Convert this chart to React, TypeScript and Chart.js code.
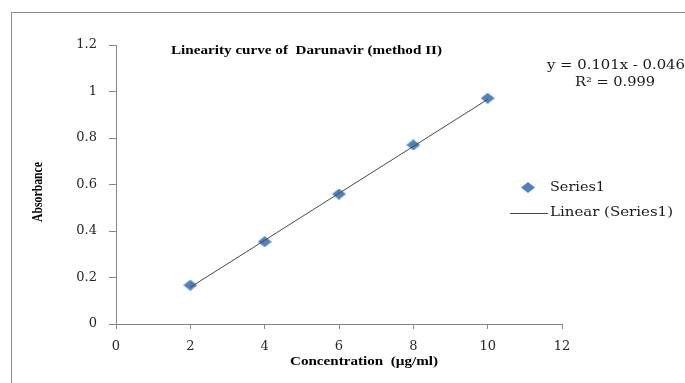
import React, { useEffect, useRef } from 'react';
import { Chart, registerables } from 'chart.js';

Chart.register(...registerables);

// ---- data ----
const concentrations = [2, 4, 6, 8, 10];
const absorbance = [0.167, 0.354, 0.559, 0.77, 0.971];
const trendX = [2, 10];
const trendY = [0.158, 0.966];
const xTicks = [0, 2, 4, 6, 8, 10, 12];
const yTicks = [0, 0.2, 0.4, 0.6, 0.8, 1, 1.2];
const titleText = 'Linearity curve of  Darunavir (method II)';
const equationText = 'y = 0.101x - 0.046';
const r2Text = 'R² = 0.999';
const xTitle = 'Concentration  (µg/ml)';
const yTitle = 'Absorbance';
const seriesName = 'Series1';
const trendName = 'Linear (Series1)';

const W = 685;
const H = 383;
const BLUE = '#4F81BD';
const AXIS = '#868686';
const TREND = '#4a4a4a';

function makeDiamond(w: number, h: number) {
  const c = document.createElement('canvas');
  c.width = w;
  c.height = h;
  const g = c.getContext('2d')!;
  g.fillStyle = BLUE;
  g.beginPath();
  g.moveTo(w / 2, 0);
  g.lineTo(w, h / 2);
  g.lineTo(w / 2, h);
  g.lineTo(0, h / 2);
  g.closePath();
  g.fill();
  return c;
}

function fitText(
  ctx: CanvasRenderingContext2D,
  text: string,
  x: number,
  y: number,
  font: string,
  width: number,
  align: CanvasTextAlign,
  color: string,
  rotate = false
) {
  ctx.save();
  ctx.font = font;
  const m = ctx.measureText(text).width;
  const s = width / m;
  ctx.translate(x, y);
  if (rotate) ctx.rotate(-Math.PI / 2);
  ctx.scale(s, 1);
  ctx.textAlign = align;
  ctx.textBaseline = 'middle';
  ctx.fillStyle = color;
  ctx.fillText(text, 0, 0);
  ctx.restore();
}

const decorPlugin = {
  id: 'decor',
  afterDraw(chart: any) {
    const ctx: CanvasRenderingContext2D = chart.ctx;
    // outer frame (top + left)
    ctx.save();
    ctx.strokeStyle = '#8c8c8c';
    ctx.lineWidth = 1;
    ctx.beginPath();
    ctx.moveTo(11, 12.5);
    ctx.lineTo(W, 12.5);
    ctx.moveTo(11.5, 12);
    ctx.lineTo(11.5, H);
    ctx.stroke();
    ctx.restore();

    const serifB = 'bold 12px "Liberation Serif"';
    const dv = '13px "DejaVu Serif"';
    fitText(ctx, titleText, 306.5, 51, serifB, 271, 'center', '#000');
    fitText(ctx, equationText, 547, 66, dv, 138, 'left', '#1a1a1a');
    fitText(ctx, r2Text, 575, 83, dv, 80, 'left', '#1a1a1a');

    // legend
    ctx.save();
    ctx.fillStyle = BLUE;
    ctx.beginPath();
    ctx.moveTo(528, 182);
    ctx.lineTo(535, 187.5);
    ctx.lineTo(528, 193);
    ctx.lineTo(521, 187.5);
    ctx.closePath();
    ctx.fill();
    ctx.strokeStyle = TREND;
    ctx.lineWidth = 1;
    ctx.beginPath();
    ctx.moveTo(510, 213.5);
    ctx.lineTo(548, 213.5);
    ctx.stroke();
    ctx.restore();
    fitText(ctx, seriesName, 550, 188, dv, 55, 'left', '#1a1a1a');
    fitText(ctx, trendName, 550, 213, dv, 123, 'left', '#1a1a1a');

    // axis titles
    fitText(ctx, yTitle, 38, 192, 'bold 14px "Liberation Serif"', 60, 'center', '#000', true);
    fitText(ctx, xTitle, 364, 362, serifB, 148, 'center', '#000');
  },
};

export default function App() {
  const ref = useRef<HTMLCanvasElement | null>(null);

  useEffect(() => {
    if (!ref.current) return;
    const diamond = makeDiamond(14, 11);
    const tickFont = { family: '"DejaVu Serif"', size: 13 };
    const chart = new Chart(ref.current, {
      type: 'scatter',
      data: {
        datasets: [
          {
            label: trendName,
            data: trendX.map((x, i) => ({ x, y: trendY[i] })),
            showLine: true,
            borderColor: TREND,
            borderWidth: 1,
            pointRadius: 0,
            order: 0,
          },
          {
            label: seriesName,
            data: concentrations.map((x, i) => ({ x, y: absorbance[i] })),
            pointStyle: diamond as any,
            pointRadius: 6,
            backgroundColor: BLUE,
            borderColor: BLUE,
            order: 1,
          },
        ],
      },
      options: {
        animation: false,
        responsive: false,
        devicePixelRatio: 1,
        layout: { padding: { left: 0, top: 45, right: 123, bottom: 0 } },
        plugins: {
          legend: { display: false },
          tooltip: { enabled: false },
          title: { display: false },
        },
        scales: {
          x: {
            type: 'linear',
            min: 0,
            max: 12,
            afterBuildTicks: (s: any) => {
              s.ticks = xTicks.map((v) => ({ value: v }));
            },
            afterFit: (s: any) => {
              s.height = 59;
            },
            ticks: { font: tickFont, color: '#262626', padding: 10, maxRotation: 0 },
            grid: {
              display: true,
              drawOnChartArea: false,
              drawTicks: true,
              tickLength: 5,
              color: AXIS,
            },
            border: { display: true, color: AXIS, width: 1 },
          },
          y: {
            type: 'linear',
            min: 0,
            max: 1.2,
            afterBuildTicks: (s: any) => {
              s.ticks = yTicks.map((v) => ({ value: v }));
            },
            afterFit: (s: any) => {
              s.width = 116;
            },
            ticks: {
              font: tickFont,
              color: '#262626',
              padding: 12,
              callback: (v: any) => String(Math.round(Number(v) * 10) / 10),
            },
            grid: {
              display: true,
              drawOnChartArea: false,
              drawTicks: true,
              tickLength: 7,
              color: AXIS,
            },
            border: { display: true, color: AXIS, width: 1 },
          },
        },
      },
      plugins: [decorPlugin],
    });
    return () => chart.destroy();
  }, []);

  return (
    <div style={{ position: 'absolute', left: 0, top: 0, width: W, height: H, background: '#fff' }}>
      <canvas ref={ref} width={W} height={H} style={{ display: 'block' }} />
    </div>
  );
}
